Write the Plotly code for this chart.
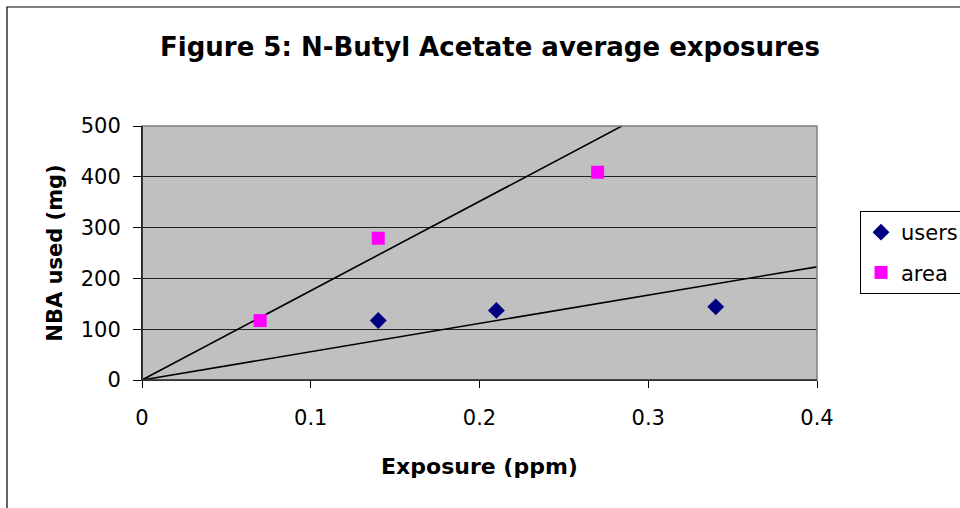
import plotly.graph_objects as go

# Data
users_x = [0.14, 0.21, 0.34]
users_y = [117, 137, 144]
area_x = [0.07, 0.14, 0.27]
area_y = [117, 279, 409]
# Trendline slopes through origin (mg per ppm)
trend_slopes = [557, 1758]
trend_x = [0, 0.4]
x_ticks = [0, 0.1, 0.2, 0.3, 0.4]
y_ticks = [0, 100, 200, 300, 400, 500]

W, H = 960, 508
L, R, T, B = 142, 817, 126, 380

fig = go.Figure()
for s in trend_slopes:
    fig.add_trace(go.Scatter(x=trend_x, y=[s * v for v in trend_x], mode="lines",
                             line=dict(color="black", width=1.6), showlegend=False,
                             hoverinfo="skip"))
fig.add_trace(go.Scatter(x=users_x, y=users_y, mode="markers", name="users",
                         legendgroup="u",
                         marker=dict(symbol="diamond", color="#000080", size=13)))
fig.add_trace(go.Scatter(x=area_x, y=area_y, mode="markers", name="area",
                         legendgroup="a",
                         marker=dict(symbol="square", color="#FF00FF", size=13)))

font = "DejaVu Sans, Liberation Sans, Arial, sans-serif"
fig.update_layout(
    width=W, height=H,
    margin=dict(l=L, r=W - R, t=T, b=H - B, autoexpand=False),
    paper_bgcolor="white", plot_bgcolor="#C0C0C0",
    font=dict(family=font, color="black", size=21),
    title=dict(text="<b>Figure 5: N-Butyl Acetate average exposures</b>",
               xref="container", x=490 / W, xanchor="center",
               yref="container", y=1 - 47 / H, yanchor="middle",
               font=dict(size=26, family=font, color="black")),
    xaxis=dict(range=[0, 0.4], tickvals=x_ticks, ticktext=[str(v) for v in x_ticks],
               showgrid=False, zeroline=False, showline=True, linecolor="black",
               linewidth=1, ticks="outside", ticklen=7, tickcolor="black",
               ticklabelstandoff=12,
               title=dict(text="<b>Exposure (ppm)</b>", font=dict(size=22), standoff=29),
               tickfont=dict(size=21)),
    yaxis=dict(range=[0, 500], tickvals=y_ticks,
               showgrid=True, gridcolor="#222222", gridwidth=1, zeroline=False,
               showline=True, linecolor="black", linewidth=1, ticks="outside",
               ticklen=8, tickcolor="black", ticklabelstandoff=8,
               title=dict(text="<b>NBA used (mg)</b>", font=dict(size=21), standoff=12),
               tickfont=dict(size=21)),
    legend=dict(xref="container", yref="container",
                x=860 / W, xanchor="left", y=1 - 211 / H, yanchor="top",
                bordercolor="black", borderwidth=1, bgcolor="white",
                font=dict(size=21), itemwidth=30, tracegroupgap=10,
                traceorder="grouped"),
    shapes=[
        dict(type="rect", xref="paper", yref="paper", x0=0, y0=0, x1=1, y1=1,
             line=dict(color="#808080", width=1.5)),
        dict(type="line", xref="paper", yref="paper", x0=0, y0=0, x1=0, y1=1,
             line=dict(color="black", width=1.2)),
        dict(type="line", xref="paper", yref="paper", x0=0, y0=0, x1=1, y1=0,
             line=dict(color="black", width=1.2)),
        dict(type="rect", xref="paper", yref="paper",
             x0=(7 - L) / (R - L), x1=(970 - L) / (R - L),
             y0=(B - 520) / (B - T), y1=(B - 7) / (B - T),
             line=dict(color="black", width=1.2), layer="below"),
    ],
)
fig.write_html("out.html")
